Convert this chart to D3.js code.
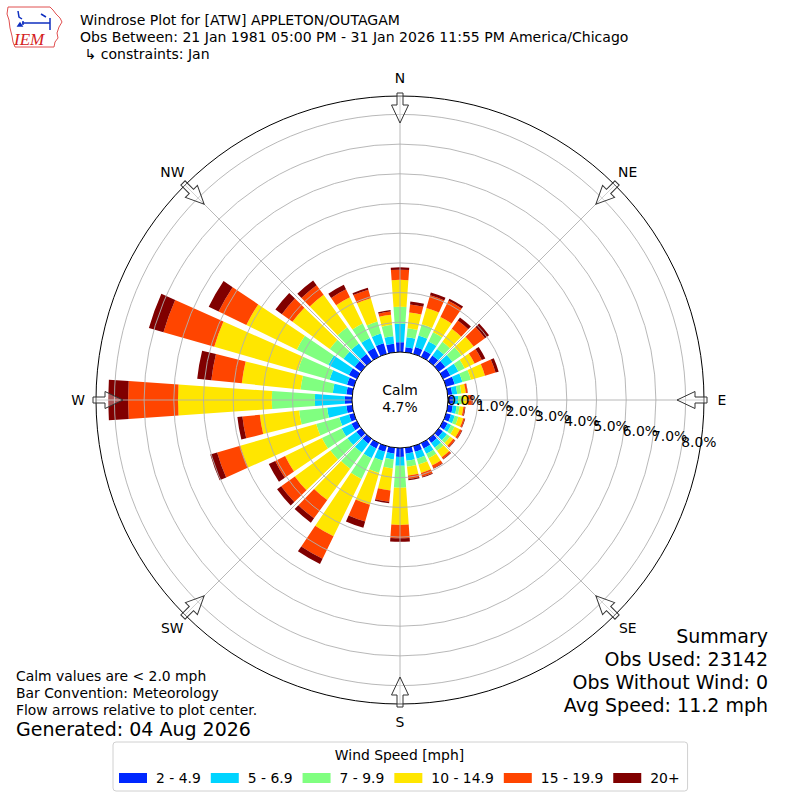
<!DOCTYPE html>
<html><head><meta charset="utf-8">
<script src="https://cdn.jsdelivr.net/npm/d3@7"></script>
<style>
body{margin:0;background:#fff}
svg{display:block}
text{font-family:"DejaVu Sans",sans-serif;fill:#000}
</style>
</head><body>
<svg id="chart" width="800" height="800"></svg>
<script>
// ---------------- data ----------------
const directions = [0,10,20,30,40,50,60,70,80,90,100,110,120,130,140,150,160,170,180,190,200,210,220,230,240,250,260,270,280,290,300,310,320,330,340,350];
const speedBins = ["2 - 4.9","5 - 6.9","7 - 9.9","10 - 14.9","15 - 19.9","20+"];
const binColors = ["#0028ff","#00d4ff","#80ff80","#ffe600","#ff4500","#800000"];
// percent of observations per direction for each speed bin
const spd2to5   = [0.33,0.17,0.24,0.24,0.24,0.27,0.27,0.30,0.15,0.17,0.17,0.17,0.17,0.17,0.17,0.20,0.20,0.20,0.30,0.20,0.20,0.20,0.20,0.20,0.20,0.17,0.20,0.24,0.20,0.24,0.30,0.27,0.30,0.34,0.37,0.29];
const spd5to7   = [0.62,0.34,0.40,0.34,0.27,0.30,0.30,0.27,0.17,0.17,0.13,0.13,0.13,0.17,0.20,0.20,0.24,0.24,0.30,0.20,0.30,0.37,0.37,0.37,0.37,0.34,0.65,1.01,0.46,0.61,0.77,0.47,0.44,0.37,0.34,0.25];
const spd7to10  = [0.57,0.30,0.40,0.34,0.30,0.37,0.24,0.30,0.14,0.13,0.10,0.13,0.13,0.13,0.13,0.17,0.20,0.20,0.74,0.30,0.44,0.77,0.67,0.71,0.74,0.81,0.95,1.45,1.09,1.11,1.18,0.57,0.67,0.54,0.42,0.39];
const spd10to15 = [0.91,0.54,0.57,0.57,0.54,0.51,0.37,0.49,0.15,0.20,0.13,0.17,0.20,0.13,0.27,0.27,0.30,0.30,1.25,0.75,1.11,2.15,1.31,1.48,1.38,2.66,1.33,3.16,1.99,2.93,1.89,1.55,1.35,0.98,0.82,0.34];
const spd15to20 = [0.34,0.27,0.44,0.61,0.34,0.47,0.27,0.37,0.06,0.13,0.05,0.05,0.07,0.07,0.07,0.10,0.13,0.12,0.45,0.38,0.59,0.84,0.76,0.57,0.37,0.81,0.59,1.68,1.03,1.78,1.04,0.44,0.40,0.30,0.30,0.11];
const spd20plus = [0.08,0.10,0.10,0.08,0.13,0.17,0.13,0.11,0.01,0.03,0.02,0.02,0.02,0.02,0.02,0.02,0.03,0.04,0.12,0.05,0.22,0.20,0.18,0.17,0.24,0.24,0.17,0.67,0.48,0.51,0.37,0.27,0.20,0.17,0.07,0.05];
const radialTicks = [0,1,2,3,4,5,6,7,8];
const radialMax = 8.62;
const compassNames = ["N","NE","E","SE","S","SW","W","NW"];
const compassAngles = [0,45,90,135,180,225,270,315];
const calmPct = 4.7;
const titleLines = ["Windrose Plot for [ATW] APPLETON/OUTAGAM",
  "Obs Between: 21 Jan 1981 05:00 PM - 31 Jan 2026 11:55 PM America/Chicago",
  " \u21b3 constraints: Jan"];
const noteLines = ["Calm values are < 2.0 mph","Bar Convention: Meteorology","Flow arrows relative to plot center."];
const generatedText = "Generated: 04 Aug 2026";
const summaryLines = ["Summary","Obs Used: 23142","Obs Without Wind: 0","Avg Speed: 11.2 mph"];
const legendTitle = "Wind Speed [mph]";

// ---------------- layout ----------------
const svg = d3.select("#chart");
svg.append("rect").attr("width",800).attr("height",800).attr("fill","#fff");
const cx = 400, cy = 400;
const calmR = 48, outerR = 304;
const barWidthDeg = 8;
const rad = d => d*Math.PI/180;

const r = d3.scaleLinear().domain([0, radialMax]).range([calmR, outerR]);

const series = [spd2to5, spd5to7, spd7to10, spd10to15, spd15to20, spd20plus];
const table = directions.map((dir,i) => {
  const o = {dir};
  speedBins.forEach((b,k) => o[b] = series[k][i]);
  return o;
});
const stacked = d3.stack().keys(speedBins)(table);

const g = svg.append("g").attr("transform",`translate(${cx},${cy})`);
const arc = d3.arc();

// bars
stacked.forEach((layer,k) => {
  g.append("g").selectAll("path").data(layer).join("path")
    .attr("d", d => arc({innerRadius: r(d[0]), outerRadius: r(d[1]),
        startAngle: rad(d.data.dir - barWidthDeg/2), endAngle: rad(d.data.dir + barWidthDeg/2)}))
    .attr("fill", binColors[k]);
});

// grid
const grid = g.append("g").attr("fill","none").attr("stroke","#b0b0b0").attr("stroke-width",0.9);
grid.selectAll("circle").data(radialTicks.filter(t=>t>0)).join("circle").attr("r", d=>r(d));
grid.selectAll("line").data(compassAngles).join("line")
  .attr("x1", d=>r(0)*Math.sin(rad(d))).attr("y1", d=>-r(0)*Math.cos(rad(d)))
  .attr("x2", d=>r(radialMax)*Math.sin(rad(d))).attr("y2", d=>-r(radialMax)*Math.cos(rad(d)));

// outer circle
g.append("circle").attr("r", r(radialMax)).attr("fill","none").attr("stroke","#000").attr("stroke-width",1);

// calm circle
g.append("circle").attr("r", r(0)).attr("fill","#fff").attr("stroke","#000").attr("stroke-width",1);
g.append("text").attr("x",0).attr("y",-5).attr("text-anchor","middle").style("font-size","13.9px").text("Calm");
g.append("text").attr("x",0).attr("y",12).attr("text-anchor","middle").style("font-size","13.9px").text(calmPct.toFixed(1)+"%");

// radial labels
const labAng = rad(100);
g.append("g").selectAll("text").data(radialTicks).join("text")
  .attr("x", d => r(d)*Math.sin(labAng))
  .attr("y", d => -r(d)*Math.cos(labAng) - 3)
  .style("font-size","13.9px")
  .text(d => d.toFixed(1)+"%");

// arrows
const arrowPts = [[-3,307],[3,307],[3,295],[8.5,295],[0,277],[-8.5,295],[-3,295]];
g.append("g").selectAll("path").data(compassAngles).join("path")
  .attr("d", "M" + arrowPts.map(p => `${p[0]},${-p[1]}`).join("L") + "Z")
  .attr("transform", d => `rotate(${d})`)
  .attr("fill","#fff").attr("fill-opacity",0.35).attr("stroke","#333").attr("stroke-width",1);

// compass labels
g.append("g").selectAll("text").data(compassAngles).join("text")
  .attr("x", d => 322*Math.sin(rad(d)))
  .attr("y", d => -322*Math.cos(rad(d)) + 5)
  .attr("text-anchor","middle").style("font-size","13.9px")
  .text((d,i) => compassNames[i]);

// titles
svg.append("g").selectAll("text").data(titleLines).join("text")
  .attr("x",80).attr("y",(d,i)=>25+i*17).style("font-size","14.05px").attr("xml:space","preserve")
  .style("white-space","pre").text(d=>d);

// notes
svg.append("g").selectAll("text").data(noteLines).join("text")
  .attr("x",16).attr("y",(d,i)=>681+i*17).style("font-size","13.9px").text(d=>d);
svg.append("text").attr("x",16).attr("y",736).style("font-size","19px").text(generatedText);

// summary
svg.append("g").selectAll("text").data(summaryLines).join("text")
  .attr("x",768).attr("y",(d,i)=>643+i*23).attr("text-anchor","end").style("font-size","19px").text(d=>d);

// legend
const lg = svg.append("g");
const lbox = lg.append("rect").attr("x",113).attr("y",742).attr("width",573).attr("height",49)
  .attr("rx",3).attr("fill","#fff").attr("stroke","#d0d0d0").attr("stroke-width",1);
lg.append("text").attr("x",399.5).attr("y",760).attr("text-anchor","middle").style("font-size","13.9px").text(legendTitle);
let lx = 119;
speedBins.forEach((b,k) => {
  lg.append("rect").attr("x",lx).attr("y",773).attr("width",28).attr("height",10).attr("fill",binColors[k]);
  const t = lg.append("text").attr("x",lx+37).attr("y",783).style("font-size","13.9px").text(b);
  lx = lx + 37 + t.node().getComputedTextLength() + 10;
});
lbox.attr("width", lx - 113 - 2);

// logo
const logo = svg.append("g");
logo.append("path")
  .attr("d","M8,7 L50,7 L53,10 L56,14 L60,18 L62,22 L59,27 L57,33 L58,38 L55,42 L54,47 L15,47 L13,42 L12,36 L10,28 L9,20 L7,14 Z")
  .attr("fill","none").attr("stroke","#e05050").attr("stroke-width",1);
logo.append("text").attr("x",14).attr("y",45).style("font-family","'Liberation Serif',serif")
  .style("font-style","italic").style("font-size","17px").style("fill","#d42020").text("IEM");
const lb = logo.append("g").attr("stroke","#1030c0").attr("stroke-width",1.5).attr("fill","none");
lb.append("path").attr("d","M22,23 L50,23 M50,18 L50,30 M18,11 L19,17 L22,19 M41,14 L46,17 M23,21 L23,25");
lb.append("path").attr("d","M18,26 L20,23 L22,26 Z").attr("fill","#1030c0");
</script>
</body></html>
